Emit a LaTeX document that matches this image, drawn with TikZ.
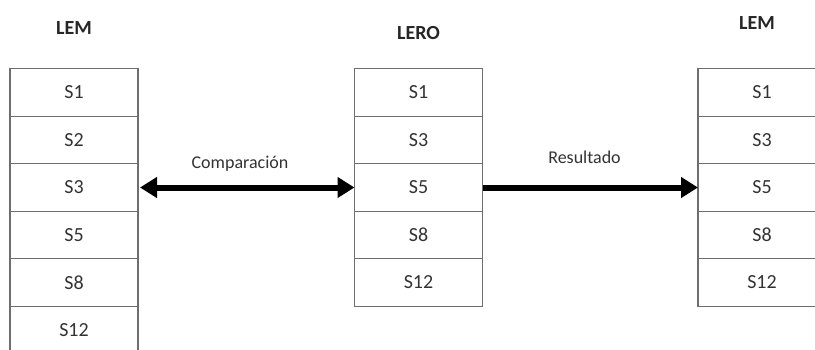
\documentclass[tikz,border=0pt]{standalone}
\usepackage{fontspec}
\setmainfont{Carlito}
\usetikzlibrary{arrows.meta}
\definecolor{cellline}{HTML}{6E6E6E}
\definecolor{celltext}{HTML}{333333}
\tikzset{
  cell/.style={draw=cellline, line width=1.1pt, minimum width=128pt, minimum height=47.5pt,
    inner sep=0pt, outer sep=0pt, font=\fontsize{20}{22}\selectfont, text=celltext},
  heading/.style={font=\bfseries\fontsize{20}{22}\selectfont, text=black!85},
  edgelabel/.style={font=\fontsize{18}{20}\selectfont, text=celltext},
  bigarrow/.style={line width=6pt, -{Triangle[length=17pt,width=20pt]}},
  bigdouble/.style={line width=6pt, {Triangle[length=17pt,width=20pt]}-{Triangle[length=17pt,width=20pt]}}
}
\begin{document}
\begin{tikzpicture}[x=1pt,y=-1pt]
\useasboundingbox (0,0) rectangle (815,349);
\clip (0,0) rectangle (815,349);
% left list
\node[heading] (lt) at (74,28) {LEM};
\node[cell] (l1) at (74,92.5) {S1};
\node[cell] (l2) at (74,140) {S2};
\node[cell] (l3) at (74,187.5) {S3};
\node[cell] (l4) at (74,235) {S5};
\node[cell] (l5) at (74,282.5) {S8};
\node[cell] (l6) at (74,330) {S12};
% middle list
\node[heading] (mt) at (418.5,33) {LERO};
\node[cell] (m1) at (418.5,92.5) {S1};
\node[cell] (m2) at (418.5,140) {S3};
\node[cell] (m3) at (418.5,187.5) {S5};
\node[cell] (m4) at (418.5,235) {S8};
\node[cell] (m5) at (418.5,282.5) {S12};
% right list
\node[heading] (rt) at (757,23) {LEM};
\node[cell] (r1) at (762,92.5) {S1};
\node[cell] (r2) at (762,140) {S3};
\node[cell] (r3) at (762,187.5) {S5};
\node[cell] (r4) at (762,235) {S8};
\node[cell] (r5) at (762,282.5) {S12};
% connectors
\draw[bigdouble] ([xshift=2pt]l3.east) -- (m3.west);
\node[edgelabel] (cmp) at (240,164) {Comparación};
\draw[bigarrow] (m3.east) -- (r3.west);
\node[edgelabel] (res) at (584.5,157) {Resultado};
\end{tikzpicture}
\end{document}
